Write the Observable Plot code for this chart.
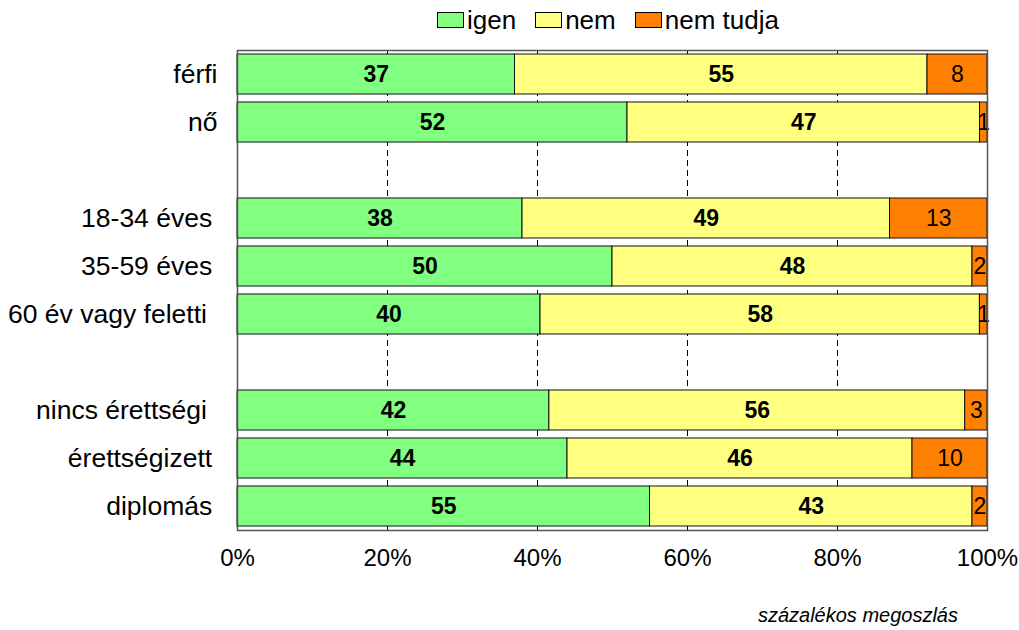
<!DOCTYPE html>
<html>
<head>
<meta charset="utf-8">
<script src="https://cdn.jsdelivr.net/npm/d3@7"></script>
<script src="https://cdn.jsdelivr.net/npm/@observablehq/plot@0.6"></script>
<style>
  body { margin: 0; background: #fff; font-family: "Liberation Sans", Arial, sans-serif; }
  #wrap { width: 1019px; height: 630px; position: relative; overflow: hidden; }
  #legend { height: 40px; display: flex; align-items: center; padding-left: 437px; box-sizing: border-box; font-size: 26px; color: #000; }
  .item { display: flex; align-items: center; margin-right: 19px; }
  .sw { width: 25px; height: 14px; border: 1px solid #000; margin-right: 3px; }
  #caption { position: absolute; right: 61px; top: 604px; font-size: 20px; font-style: italic; color: #000; }
</style>
</head>
<body>
<div id="wrap">
  <div id="legend"></div>
  <div id="chart"></div>
  <div id="caption">százalékos megoszlás</div>
</div>
<script>
const groups = ["férfi", "nő", "_gap1", "18-34 éves", "35-59 éves", "60 év vagy feletti", "_gap2", "nincs érettségi", "érettségizett", "diplomás"];
const answers = ["igen", "nem", "nem tudja"];
const colors = ["#80FF80", "#FFFF80", "#FF8000"];
const igen     = {"férfi": 37, "nő": 52, "18-34 éves": 38, "35-59 éves": 50, "60 év vagy feletti": 40, "nincs érettségi": 42, "érettségizett": 44, "diplomás": 55};
const nem      = {"férfi": 55, "nő": 47, "18-34 éves": 49, "35-59 éves": 48, "60 év vagy feletti": 58, "nincs érettségi": 56, "érettségizett": 46, "diplomás": 43};
const nemTudja = {"férfi": 8,  "nő": 1,  "18-34 éves": 13, "35-59 éves": 2,  "60 év vagy feletti": 1,  "nincs érettségi": 3,  "érettségizett": 10, "diplomás": 2};
const xTicks = [0, 0.2, 0.4, 0.6, 0.8, 1];
const gridTicks = [0.2, 0.4, 0.6, 0.8];
const labelPad = {"férfi": "", "nő": "", "18-34 éves": "\u2009", "35-59 éves": "\u2009", "60 év vagy feletti": "\u2009\u2009", "nincs érettségi": "\u2009\u2009", "érettségizett": "\u2009", "diplomás": "\u2009"};

const series = [igen, nem, nemTudja];
const data = [];
for (const g of groups) {
  if (g.startsWith("_gap")) continue;
  answers.forEach((a, i) => data.push({group: g, answer: a, value: series[i][g]}));
}

// legend
const legend = document.getElementById("legend");
answers.forEach((a, i) => {
  const it = document.createElement("div");
  it.className = "item";
  const sw = document.createElement("div");
  sw.className = "sw";
  sw.style.background = colors[i];
  const t = document.createElement("span");
  t.textContent = a;
  it.appendChild(sw); it.appendChild(t);
  legend.appendChild(it);
});

const stackOpts = {x: "value", y: "group", z: "answer", offset: "normalize", order: answers};

const chart = Plot.plot({
  width: 1019,
  height: 548,
  marginTop: 10,
  marginBottom: 58,
  marginLeft: 237,
  marginRight: 32,
  style: {fontFamily: '"Liberation Sans", Arial, sans-serif', color: "#000", background: "#fff"},
  x: {domain: [0, 1]},
  y: {domain: groups, paddingInner: 0.167, paddingOuter: 0.083},
  color: {domain: answers, range: colors},
  marks: [
    Plot.gridX(gridTicks, {stroke: "#000", strokeOpacity: 1, strokeWidth: 1, strokeDasharray: "6,4"}),
    Plot.ruleX(gridTicks, {stroke: "#000", insetBottom: 475}),
    Plot.ruleX(gridTicks, {stroke: "#000", insetTop: 475}),
    Plot.barX(data, Plot.stackX({...stackOpts, fill: "answer", stroke: "#111", strokeWidth: 1})),
    Plot.text(data, Plot.stackX({...stackOpts, text: d => d.answer === "nem tudja" ? null : String(d.value), fontWeight: "bold", fontSize: 23, fill: "#000"})),
    Plot.text(data, Plot.stackX({...stackOpts, text: d => d.answer === "nem tudja" ? String(d.value) : null, fontSize: 23, fill: "#000"})),
    Plot.frame({stroke: "#555", strokeWidth: 1.5}),
    Plot.axisX(xTicks, {anchor: "bottom", tickSize: 0, tickPadding: 18, tickFormat: d => Math.round(d * 100) + "%", fontSize: 24, label: null}),
    Plot.axisY({anchor: "left", tickSize: 0, tickPadding: 20, fontSize: 26.5, label: null, tickFormat: d => d.startsWith("_gap") ? "" : d + labelPad[d]})
  ]
});
document.getElementById("chart").appendChild(chart);
</script>
</body>
</html>
